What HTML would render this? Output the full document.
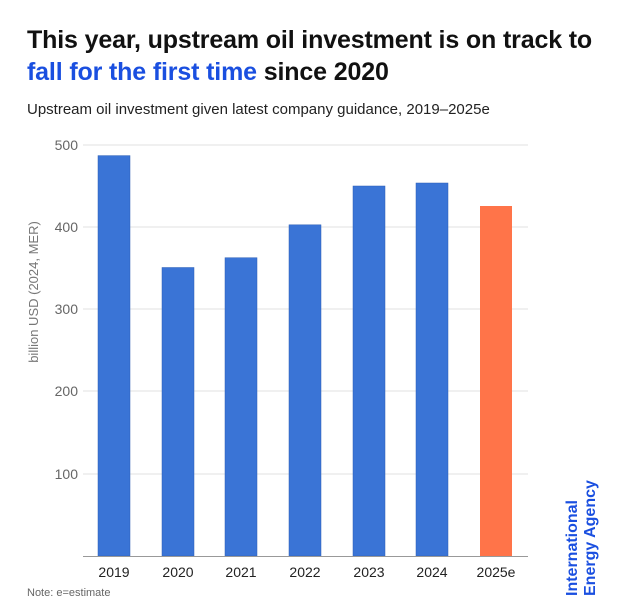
<!DOCTYPE html>
<html><head><style>
body{margin:0;width:624px;height:616px;background:#fff;font-family:"Liberation Sans",sans-serif;position:relative;overflow:hidden}
.t{position:absolute;left:27px;font-size:25px;font-weight:bold;color:#111;letter-spacing:-0.15px;white-space:nowrap}
</style></head><body>
<div class="t" style="top:26px">This year, upstream oil investment is on track to</div>
<div class="t" style="top:58px"><span style="color:#1a4fe0">fall for the first time</span> since 2020</div>
<div style="position:absolute;left:27px;top:101px;font-size:15px;color:#222">Upstream oil investment given latest company guidance, 2019–2025e</div>
<svg width="624" height="616" style="position:absolute;left:0;top:0" font-family="Liberation Sans, sans-serif">
<g stroke="#e2e2e2" stroke-width="1">
<line x1="83" x2="528" y1="145" y2="145"/><line x1="83" x2="528" y1="227" y2="227"/>
<line x1="83" x2="528" y1="309" y2="309"/><line x1="83" x2="528" y1="391" y2="391"/>
<line x1="83" x2="528" y1="474" y2="474"/></g>
<g font-size="14" fill="#666" text-anchor="end">
<text x="78" y="150">500</text><text x="78" y="232">400</text><text x="78" y="314">300</text><text x="78" y="396">200</text><text x="78" y="479">100</text></g>
<text transform="translate(38,292) rotate(-90)" font-size="13" fill="#777" text-anchor="middle">billion USD (2024, MER)</text>
<g fill="#3a74d6" stroke="#2d5fb5" stroke-width="0.5">
<rect x="98" y="155.6" width="32" height="400.4"/>
<rect x="162" y="267.5" width="32" height="288.5"/>
<rect x="225" y="257.7" width="32" height="298.3"/>
<rect x="289" y="224.8" width="32" height="331.2"/>
<rect x="353" y="186" width="32" height="370"/>
<rect x="416" y="183" width="32" height="373"/></g>
<rect x="480" y="206" width="32" height="350" fill="#ff7449"/>
<line x1="83" x2="528" y1="556.5" y2="556.5" stroke="#999" stroke-width="1"/>
<g font-size="14" fill="#222" text-anchor="middle">
<text x="114" y="577">2019</text><text x="178" y="577">2020</text><text x="241" y="577">2021</text><text x="305" y="577">2022</text><text x="369" y="577">2023</text><text x="432" y="577">2024</text><text x="496" y="577">2025e</text></g>
<text x="27" y="596" font-size="11" fill="#666">Note: e=estimate</text>
<g transform="translate(577,596) rotate(-90)" font-size="16" font-weight="bold" fill="#1a4fe0">
<text x="0" y="0">International</text><text x="0" y="18">Energy Agency</text></g>
</svg>
</body></html>
